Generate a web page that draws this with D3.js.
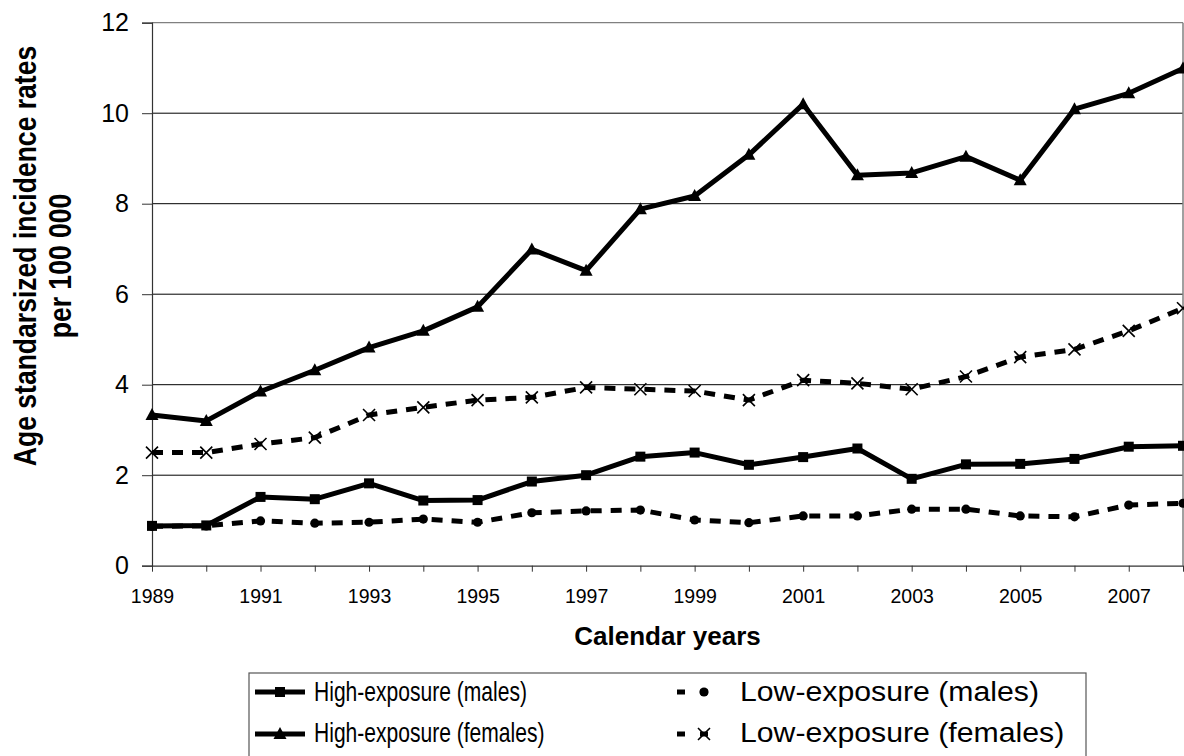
<!DOCTYPE html>
<html><head><meta charset="utf-8">
<script src="https://cdn.jsdelivr.net/npm/d3@7"></script>
<style>
html,body{margin:0;padding:0;background:#fff;}
svg{display:block;font-family:"Liberation Sans",Arial,sans-serif;}
</style></head>
<body>
<svg id="chart" width="1184" height="756"></svg>
<script>
const years = [1989,1990,1991,1992,1993,1994,1995,1996,1997,1998,1999,2000,2001,2002,2003,2004,2005,2006,2007,2008];
const highMales   = [0.88,0.89,1.52,1.47,1.82,1.44,1.45,1.86,2.00,2.41,2.50,2.23,2.40,2.59,1.92,2.24,2.25,2.36,2.63,2.65];
const lowMales    = [0.87,0.88,0.99,0.94,0.96,1.03,0.96,1.17,1.21,1.23,1.01,0.95,1.10,1.10,1.25,1.25,1.10,1.08,1.34,1.38];
const highFemales = [3.33,3.20,3.85,4.32,4.82,5.19,5.72,6.99,6.52,7.88,8.17,9.08,10.20,8.63,8.68,9.04,8.52,10.09,10.44,10.99];
const lowFemales  = [2.50,2.50,2.69,2.83,3.33,3.50,3.66,3.72,3.94,3.90,3.86,3.66,4.10,4.03,3.90,4.18,4.61,4.78,5.19,5.69];
const yTicks = [0,2,4,6,8,10,12];
const xTickLabels = [1989,1991,1993,1995,1997,1999,2001,2003,2005,2007];
const seriesNames = ["High-exposure (males)","Low-exposure (males)","High-exposure (females)","Low-exposure (females)"];
const yTitle = ["Age standarsized incidence rates","per 100 000"];
const xTitle = "Calendar years";

const series = [
  {name:seriesNames[0], values:highMales,   dashed:false, marker:"square"},
  {name:seriesNames[1], values:lowMales,    dashed:true,  marker:"circle"},
  {name:seriesNames[2], values:highFemales, dashed:false, marker:"triangle"},
  {name:seriesNames[3], values:lowFemales,  dashed:true,  marker:"cross"}
];

const svg = d3.select("#chart");
const L = 152, R = 1183, T = 22.7, B = 565.7;
const x = d3.scaleLinear().domain([1989,2008]).range([L,R]);
const y = d3.scaleLinear().domain([0,12]).range([B,T]);

// gridlines
svg.append("g").selectAll("line").data(yTicks.filter(d=>d>0 && d<12)).join("line")
  .attr("x1",L).attr("x2",R).attr("y1",d=>y(d)).attr("y2",d=>y(d))
  .attr("stroke","#000").attr("stroke-width",1);
// top / right border
svg.append("line").attr("x1",L).attr("x2",R).attr("y1",y(12)).attr("y2",y(12)).attr("stroke","#808080").attr("stroke-width",1.2);
svg.append("line").attr("x1",R).attr("x2",R).attr("y1",y(12)).attr("y2",y(0)).attr("stroke","#808080").attr("stroke-width",1.5);

// y axis
const yAxis = svg.append("g").attr("transform",`translate(${L},0)`)
  .call(d3.axisLeft(y).tickValues(yTicks).tickSize(10).tickPadding(13).tickFormat(d3.format("d")));
yAxis.select(".domain").attr("stroke","#333").attr("stroke-width",1.2);
yAxis.selectAll(".tick line").attr("stroke","#333");
yAxis.selectAll("text").attr("font-size","25px").attr("fill","#000").attr("font-family","Liberation Sans, Arial, sans-serif");

// x axis
const xAxis = svg.append("g").attr("transform",`translate(0,${B})`)
  .call(d3.axisBottom(x).tickValues(years).tickSize(6).tickSizeOuter(0)
     .tickFormat(d=> xTickLabels.includes(d) ? String(d) : ""));
xAxis.select(".domain").attr("stroke","#333").attr("stroke-width",1.2);
xAxis.selectAll(".tick line").attr("stroke","#333");
xAxis.selectAll("text").attr("font-size","19.5px").attr("fill","#000").attr("dy","0").attr("y",37)
  .attr("font-family","Liberation Sans, Arial, sans-serif");

// axis titles
const ytSx = 0.83;
const yt = svg.append("text").attr("transform",`translate(36,256) rotate(-90) scale(${ytSx},1)`)
  .attr("text-anchor","middle").attr("font-weight","bold").attr("font-size","32px");
yt.append("tspan").attr("x",0).attr("y",0).text(yTitle[0]);
yt.append("tspan").attr("x",-10/ytSx).attr("y",35.5).text(yTitle[1]);
svg.append("text").attr("x",(L+R)/2).attr("y",645).attr("text-anchor","middle")
  .attr("font-weight","bold").attr("font-size","26px").text(xTitle);

// markers
function drawMarker(g, type, cx, cy){
  if(type==="square"){
    g.append("rect").attr("x",cx-5).attr("y",cy-5).attr("width",10).attr("height",10).attr("fill","#000");
  } else if(type==="circle"){
    g.append("circle").attr("cx",cx).attr("cy",cy).attr("r",4.6).attr("fill","#000");
  } else if(type==="triangle"){
    g.append("path").attr("d",`M${cx},${cy-7}L${cx+6.5},${cy+5}L${cx-6.5},${cy+5}Z`).attr("fill","#000");
  } else if(type==="cross"){
    g.append("path").attr("d",`M${cx-6},${cy-6}L${cx+6},${cy+6}M${cx-6},${cy+6}L${cx+6},${cy-6}`)
      .attr("stroke","#000").attr("stroke-width",1.6).attr("fill","none");
  }
}

const line = d3.line().x((d,i)=>x(years[i])).y(d=>y(d));
series.forEach(s=>{
  const g = svg.append("g");
  g.append("path").attr("d",line(s.values)).attr("fill","none").attr("stroke","#000")
    .attr("stroke-width",5).attr("stroke-linejoin","round")
    .attr("stroke-dasharray",s.dashed?"11,9":null);
  s.values.forEach((v,i)=>drawMarker(g,s.marker,x(years[i]),y(v)));
});

// legend
const lg = svg.append("g");
lg.append("rect").attr("x",249).attr("y",673).attr("width",837).attr("height",100)
  .attr("fill","none").attr("stroke","#555").attr("stroke-width",1.2);
const legendPos = [
  {sx1:255,sx2:305,my:692,tx:314,ty:701,sx:0.78},
  {sx1:677,sx2:717,my:692,tx:740,ty:701,sx:1.12},
  {sx1:255,sx2:305,my:734,tx:314,ty:742,sx:0.78},
  {sx1:677,sx2:717,my:734,tx:740,ty:742,sx:1.12}
];
series.forEach((s,i)=>{
  const p = legendPos[i];
  lg.append("line").attr("x1",p.sx1).attr("x2",p.sx2).attr("y1",p.my).attr("y2",p.my)
    .attr("stroke","#000").attr("stroke-width",5).attr("stroke-dasharray",s.dashed?"8,15":null);
  drawMarker(lg,s.marker,(p.sx1+p.sx2)/2+(s.dashed?7:0),p.my);
  lg.append("text").attr("transform",`translate(${p.tx},${p.ty}) scale(${p.sx},1)`)
    .attr("font-size","27px").text(s.name);
});
</script>
</body></html>
